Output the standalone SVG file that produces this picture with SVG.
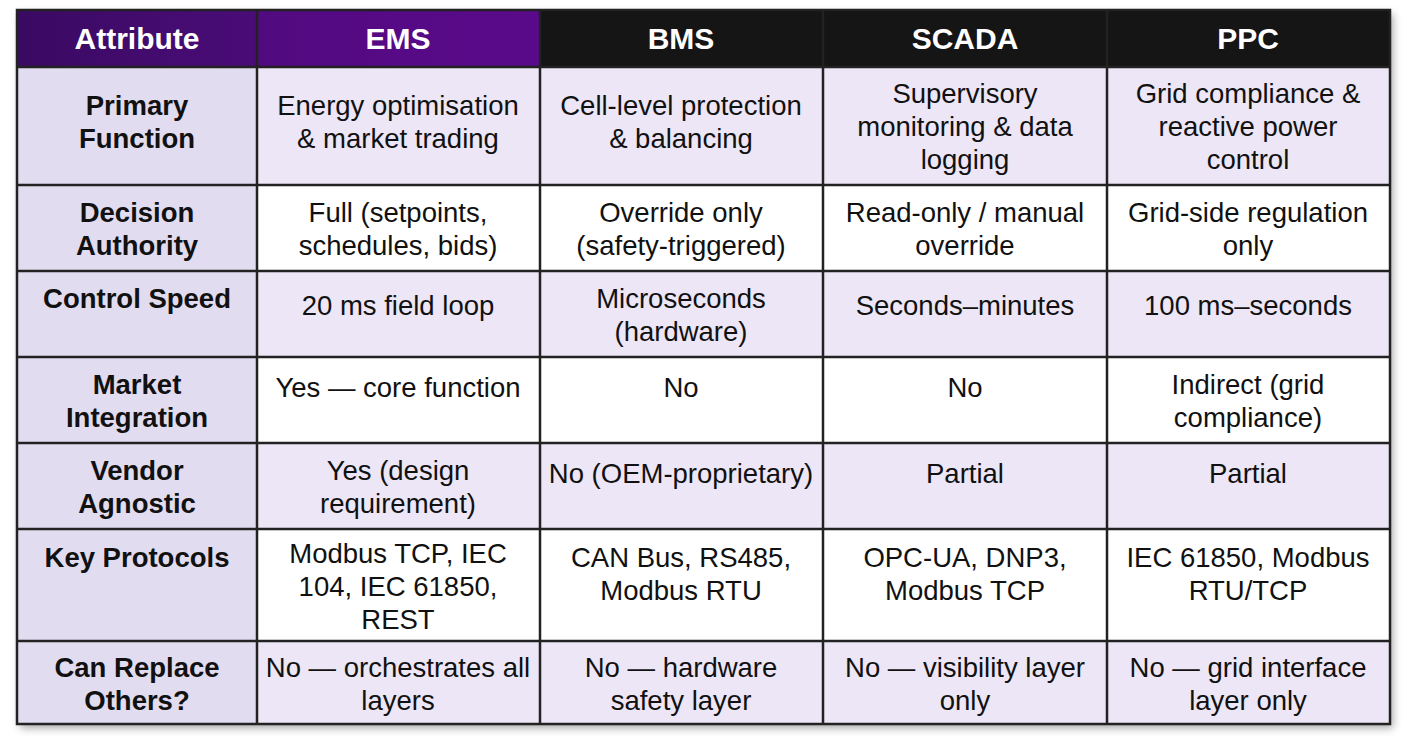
<svg xmlns="http://www.w3.org/2000/svg" width="1407" height="736" viewBox="0 0 1407 736">
<style>
text{font-family:"Liberation Sans",Arial,sans-serif;text-anchor:middle;font-size:27.5px;fill:#111}
.h{fill:#fff;font-weight:bold;font-size:30px}
.a{font-weight:bold}
.g{stroke:#222;stroke-width:2.5;fill:none}
</style>
<defs>
<linearGradient id="ag" x1="0" x2="1"><stop offset="0" stop-color="#3a0a62"/><stop offset="1" stop-color="#4a0c78"/></linearGradient>
<linearGradient id="eg" x1="0" x2="1"><stop offset="0" stop-color="#520a80"/><stop offset="1" stop-color="#5a0a8a"/></linearGradient>
<filter id="sh" x="-5%" y="-5%" width="110%" height="110%"><feDropShadow dx="3" dy="4" stdDeviation="4" flood-opacity="0.35"/></filter>
</defs>
<rect width="1407" height="736" fill="#fff"/>
<g id="table">
<rect x="17" y="10" width="1373" height="714" fill="#fff" filter="url(#sh)"/>
<rect x="17" y="10" width="240" height="57" fill="url(#ag)"/>
<rect x="257" y="10" width="283" height="57" fill="url(#eg)"/>
<rect x="540" y="10" width="850" height="57" fill="#151515"/>
<g fill="#ece6f6">
<rect x="257" y="67" width="1133" height="118"/>
<rect x="257" y="271" width="1133" height="86"/>
<rect x="257" y="443" width="1133" height="86"/>
<rect x="257" y="641" width="1133" height="83"/>
</g>
<rect x="17" y="67" width="240" height="657" fill="#e2dcf0"/>
<g class="g">
<rect x="17" y="10" width="1373" height="714"/>
<path d="M257 10V724M540 10V724M823 10V724M1107 10V724M17 67H1390M17 185H1390M17 271H1390M17 357H1390M17 443H1390M17 529H1390M17 641H1390"/>
</g>
</g>
<g id="header">
<text class="h" x="137" y="49">Attribute</text>
<text class="h" x="398" y="49">EMS</text>
<text class="h" x="681" y="49">BMS</text>
<text class="h" x="965" y="49">SCADA</text>
<text class="h" x="1248" y="49">PPC</text>
</g>
<g id="col-attr">
<text class="a" x="137" y="115">Primary</text><text class="a" x="137" y="148">Function</text>
<text class="a" x="137" y="222">Decision</text><text class="a" x="137" y="255">Authority</text>
<text class="a" x="137" y="308">Control Speed</text>
<text class="a" x="137" y="394">Market</text><text class="a" x="137" y="427">Integration</text>
<text class="a" x="137" y="480">Vendor</text><text class="a" x="137" y="513">Agnostic</text>
<text class="a" x="137" y="567">Key Protocols</text>
<text class="a" x="137" y="677">Can Replace</text><text class="a" x="137" y="710">Others?</text>
</g>
<g id="col-ems">
<text x="398" y="115">Energy optimisation</text><text x="398" y="148">&amp; market trading</text>
<text x="398" y="222">Full (setpoints,</text><text x="398" y="255">schedules, bids)</text>
<text x="398" y="315">20 ms field loop</text>
<text x="398" y="397">Yes — core function</text>
<text x="398" y="480">Yes (design</text><text x="398" y="513">requirement)</text>
<text x="398" y="563">Modbus TCP, IEC</text><text x="398" y="596">104, IEC 61850,</text><text x="398" y="629">REST</text>
<text x="398" y="677">No — orchestrates all</text><text x="398" y="710">layers</text>
</g>
<g id="col-bms">
<text x="681" y="115">Cell-level protection</text><text x="681" y="148">&amp; balancing</text>
<text x="681" y="222">Override only</text><text x="681" y="255">(safety-triggered)</text>
<text x="681" y="308">Microseconds</text><text x="681" y="341">(hardware)</text>
<text x="681" y="397">No</text>
<text x="681" y="483">No (OEM-proprietary)</text>
<text x="681" y="567">CAN Bus, RS485,</text><text x="681" y="600">Modbus RTU</text>
<text x="681" y="677">No — hardware</text><text x="681" y="710">safety layer</text>
</g>
<g id="col-scada">
<text x="965" y="103">Supervisory</text><text x="965" y="136">monitoring &amp; data</text><text x="965" y="169">logging</text>
<text x="965" y="222">Read-only / manual</text><text x="965" y="255">override</text>
<text x="965" y="315">Seconds–minutes</text>
<text x="965" y="397">No</text>
<text x="965" y="483">Partial</text>
<text x="965" y="567">OPC-UA, DNP3,</text><text x="965" y="600">Modbus TCP</text>
<text x="965" y="677">No — visibility layer</text><text x="965" y="710">only</text>
</g>
<g id="col-ppc">
<text x="1248" y="103">Grid compliance &amp;</text><text x="1248" y="136">reactive power</text><text x="1248" y="169">control</text>
<text x="1248" y="222">Grid-side regulation</text><text x="1248" y="255">only</text>
<text x="1248" y="315">100 ms–seconds</text>
<text x="1248" y="394">Indirect (grid</text><text x="1248" y="427">compliance)</text>
<text x="1248" y="483">Partial</text>
<text x="1248" y="567">IEC 61850, Modbus</text><text x="1248" y="600">RTU/TCP</text>
<text x="1248" y="677">No — grid interface</text><text x="1248" y="710">layer only</text>
</g>
</svg>
